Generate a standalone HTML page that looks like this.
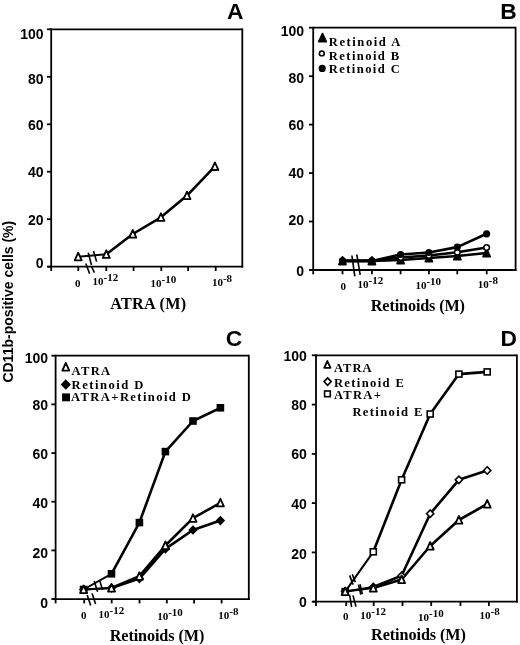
<!DOCTYPE html><html><head><meta charset="utf-8"><style>
html,body{margin:0;padding:0;background:#fff;}
svg{display:block;will-change:transform;}
line,polyline,path,rect,circle{stroke:#000;}
text{fill:#000;stroke:none;}
.yl{font-family:"Liberation Sans",sans-serif;font-weight:bold;font-size:14px;}
.pl{font-family:"Liberation Sans",sans-serif;font-weight:bold;font-size:22.8px;}
.xl{font-family:"Liberation Serif",serif;font-weight:bold;font-size:11px;}
.at{font-family:"Liberation Serif",serif;font-weight:bold;font-size:16.2px;}
.lg{font-family:"Liberation Serif",serif;font-weight:bold;font-size:12.6px;}
.yt{font-family:"Liberation Sans",sans-serif;font-weight:bold;font-size:14px;}
</style></head><body>
<svg width="520" height="645" viewBox="0 0 520 645">
<rect x="0" y="0" width="520" height="645" fill="#fff" style="stroke:none"/>
<line x1="51.2" y1="29.3" x2="242.3" y2="29.3" stroke-width="1.8"/>
<line x1="242.3" y1="28.4" x2="242.3" y2="267.6" stroke-width="1.8"/>
<line x1="51.2" y1="28.4" x2="51.2" y2="271.0" stroke-width="1.8"/>
<line x1="48.0" y1="266.7" x2="243.2" y2="266.7" stroke-width="1.8"/>
<line x1="47.0" y1="266.7" x2="51.2" y2="266.7" stroke-width="1.8"/>
<line x1="47.0" y1="219.2" x2="51.2" y2="219.2" stroke-width="1.8"/>
<line x1="47.0" y1="171.7" x2="51.2" y2="171.7" stroke-width="1.8"/>
<line x1="47.0" y1="124.3" x2="51.2" y2="124.3" stroke-width="1.8"/>
<line x1="47.0" y1="76.8" x2="51.2" y2="76.8" stroke-width="1.8"/>
<line x1="47.0" y1="29.3" x2="51.2" y2="29.3" stroke-width="1.8"/>
<line x1="78.3" y1="266.7" x2="78.3" y2="271.0" stroke-width="1.8"/>
<line x1="106.3" y1="266.7" x2="106.3" y2="271.0" stroke-width="1.8"/>
<line x1="133.6" y1="266.7" x2="133.6" y2="271.0" stroke-width="1.8"/>
<line x1="161.3" y1="266.7" x2="161.3" y2="271.0" stroke-width="1.8"/>
<line x1="188.1" y1="266.7" x2="188.1" y2="271.0" stroke-width="1.8"/>
<line x1="215.7" y1="266.7" x2="215.7" y2="271.0" stroke-width="1.8"/>
<text x="43.6" y="39.2" class="yl" text-anchor="end" >100</text>
<text x="43.6" y="84.2" class="yl" text-anchor="end" >80</text>
<text x="43.6" y="129.8" class="yl" text-anchor="end" >60</text>
<text x="43.6" y="177.3" class="yl" text-anchor="end" >40</text>
<text x="43.6" y="224.7" class="yl" text-anchor="end" >20</text>
<text x="43.6" y="268.0" class="yl" text-anchor="end" >0</text>
<text x="75.0" y="286.7" class="xl" text-anchor="start" >0</text>
<text x="92.5" y="285.0" class="xl">10<tspan dy="-4.0">-12</tspan></text>
<text x="150.6" y="287.4" class="xl">10<tspan dy="-4.0">-10</tspan></text>
<text x="211.9" y="285.7" class="xl">10<tspan dy="-4.0">-8</tspan></text>
<text x="110.2" y="308.8" class="at" text-anchor="start"  textLength="76.0" lengthAdjust="spacing">ATRA (M)</text>
<text x="226.9" y="18.9" class="pl" text-anchor="start" >A</text>
<line x1="313.2" y1="27.7" x2="515.6" y2="27.7" stroke-width="1.8"/>
<line x1="515.6" y1="26.8" x2="515.6" y2="270.9" stroke-width="1.8"/>
<line x1="313.2" y1="26.8" x2="313.2" y2="274.3" stroke-width="1.8"/>
<line x1="310.0" y1="270.0" x2="516.5" y2="270.0" stroke-width="1.8"/>
<line x1="309.0" y1="270.0" x2="313.2" y2="270.0" stroke-width="1.8"/>
<line x1="309.0" y1="221.5" x2="313.2" y2="221.5" stroke-width="1.8"/>
<line x1="309.0" y1="173.1" x2="313.2" y2="173.1" stroke-width="1.8"/>
<line x1="309.0" y1="124.6" x2="313.2" y2="124.6" stroke-width="1.8"/>
<line x1="309.0" y1="76.2" x2="313.2" y2="76.2" stroke-width="1.8"/>
<line x1="309.0" y1="27.7" x2="313.2" y2="27.7" stroke-width="1.8"/>
<line x1="342.5" y1="270.0" x2="342.5" y2="274.3" stroke-width="1.8"/>
<line x1="371.9" y1="270.0" x2="371.9" y2="274.3" stroke-width="1.8"/>
<line x1="400.6" y1="270.0" x2="400.6" y2="274.3" stroke-width="1.8"/>
<line x1="428.9" y1="270.0" x2="428.9" y2="274.3" stroke-width="1.8"/>
<line x1="457.3" y1="270.0" x2="457.3" y2="274.3" stroke-width="1.8"/>
<line x1="486.7" y1="270.0" x2="486.7" y2="274.3" stroke-width="1.8"/>
<text x="304.0" y="35.8" class="yl" text-anchor="end" >100</text>
<text x="304.0" y="82.9" class="yl" text-anchor="end" >80</text>
<text x="304.0" y="130.3" class="yl" text-anchor="end" >60</text>
<text x="304.0" y="178.0" class="yl" text-anchor="end" >40</text>
<text x="304.0" y="225.2" class="yl" text-anchor="end" >20</text>
<text x="304.0" y="275.6" class="yl" text-anchor="end" >0</text>
<text x="340.5" y="289.5" class="xl" text-anchor="start" >0</text>
<text x="357.6" y="288.2" class="xl">10<tspan dy="-4.0">-12</tspan></text>
<text x="415.4" y="289.0" class="xl">10<tspan dy="-4.0">-10</tspan></text>
<text x="477.8" y="287.8" class="xl">10<tspan dy="-4.0">-8</tspan></text>
<text x="370.8" y="310.9" class="at" text-anchor="start"  textLength="94.2" lengthAdjust="spacing">Retinoids (M)</text>
<text x="500.2" y="19.0" class="pl" text-anchor="start" >B</text>
<line x1="55.6" y1="355.7" x2="248.8" y2="355.7" stroke-width="1.8"/>
<line x1="248.8" y1="354.8" x2="248.8" y2="600.0" stroke-width="1.8"/>
<line x1="55.6" y1="354.8" x2="55.6" y2="603.4" stroke-width="1.8"/>
<line x1="52.4" y1="599.1" x2="249.7" y2="599.1" stroke-width="1.8"/>
<line x1="51.4" y1="599.1" x2="55.6" y2="599.1" stroke-width="1.8"/>
<line x1="51.4" y1="550.4" x2="55.6" y2="550.4" stroke-width="1.8"/>
<line x1="51.4" y1="501.7" x2="55.6" y2="501.7" stroke-width="1.8"/>
<line x1="51.4" y1="453.1" x2="55.6" y2="453.1" stroke-width="1.8"/>
<line x1="51.4" y1="404.4" x2="55.6" y2="404.4" stroke-width="1.8"/>
<line x1="51.4" y1="355.7" x2="55.6" y2="355.7" stroke-width="1.8"/>
<line x1="84.2" y1="599.1" x2="84.2" y2="603.4" stroke-width="1.8"/>
<line x1="111.7" y1="599.1" x2="111.7" y2="603.4" stroke-width="1.8"/>
<line x1="139.5" y1="599.1" x2="139.5" y2="603.4" stroke-width="1.8"/>
<line x1="166.8" y1="599.1" x2="166.8" y2="603.4" stroke-width="1.8"/>
<line x1="194.1" y1="599.1" x2="194.1" y2="603.4" stroke-width="1.8"/>
<line x1="221.6" y1="599.1" x2="221.6" y2="603.4" stroke-width="1.8"/>
<text x="48.1" y="362.5" class="yl" text-anchor="end" >100</text>
<text x="48.1" y="410.3" class="yl" text-anchor="end" >80</text>
<text x="48.1" y="458.5" class="yl" text-anchor="end" >60</text>
<text x="48.1" y="508.0" class="yl" text-anchor="end" >40</text>
<text x="48.1" y="557.5" class="yl" text-anchor="end" >20</text>
<text x="48.1" y="607.5" class="yl" text-anchor="end" >0</text>
<text x="81.1" y="618.8" class="xl" text-anchor="start" >0</text>
<text x="98.6" y="617.5" class="xl">10<tspan dy="-4.0">-12</tspan></text>
<text x="157.2" y="619.6" class="xl">10<tspan dy="-4.0">-10</tspan></text>
<text x="218.3" y="618.6" class="xl">10<tspan dy="-4.0">-8</tspan></text>
<text x="109.7" y="641.1" class="at" text-anchor="start"  textLength="94.6" lengthAdjust="spacing">Retinoids (M)</text>
<text x="225.8" y="345.6" class="pl" text-anchor="start" >C</text>
<line x1="316.0" y1="355.3" x2="516.9" y2="355.3" stroke-width="1.8"/>
<line x1="516.9" y1="354.4" x2="516.9" y2="602.6" stroke-width="1.8"/>
<line x1="316.0" y1="354.4" x2="316.0" y2="606.0" stroke-width="1.8"/>
<line x1="312.8" y1="601.7" x2="517.8" y2="601.7" stroke-width="1.8"/>
<line x1="311.8" y1="601.7" x2="316.0" y2="601.7" stroke-width="1.8"/>
<line x1="311.8" y1="552.4" x2="316.0" y2="552.4" stroke-width="1.8"/>
<line x1="311.8" y1="503.1" x2="316.0" y2="503.1" stroke-width="1.8"/>
<line x1="311.8" y1="453.9" x2="316.0" y2="453.9" stroke-width="1.8"/>
<line x1="311.8" y1="404.6" x2="316.0" y2="404.6" stroke-width="1.8"/>
<line x1="311.8" y1="355.3" x2="316.0" y2="355.3" stroke-width="1.8"/>
<line x1="346.2" y1="601.7" x2="346.2" y2="606.0" stroke-width="1.8"/>
<line x1="373.7" y1="601.7" x2="373.7" y2="606.0" stroke-width="1.8"/>
<line x1="402.5" y1="601.7" x2="402.5" y2="606.0" stroke-width="1.8"/>
<line x1="431.2" y1="601.7" x2="431.2" y2="606.0" stroke-width="1.8"/>
<line x1="460.5" y1="601.7" x2="460.5" y2="606.0" stroke-width="1.8"/>
<line x1="488.9" y1="601.7" x2="488.9" y2="606.0" stroke-width="1.8"/>
<text x="306.8" y="361.3" class="yl" text-anchor="end" >100</text>
<text x="306.8" y="410.3" class="yl" text-anchor="end" >80</text>
<text x="306.8" y="459.2" class="yl" text-anchor="end" >60</text>
<text x="306.8" y="509.1" class="yl" text-anchor="end" >40</text>
<text x="306.8" y="559.0" class="yl" text-anchor="end" >20</text>
<text x="306.8" y="607.3" class="yl" text-anchor="end" >0</text>
<text x="343.1" y="620.2" class="xl" text-anchor="start" >0</text>
<text x="360.3" y="618.8" class="xl">10<tspan dy="-4.0">-12</tspan></text>
<text x="418.0" y="620.8" class="xl">10<tspan dy="-4.0">-10</tspan></text>
<text x="479.6" y="618.9" class="xl">10<tspan dy="-4.0">-8</tspan></text>
<text x="371.1" y="640.3" class="at" text-anchor="start"  textLength="94.8" lengthAdjust="spacing">Retinoids (M)</text>
<text x="500.5" y="346.4" class="pl" text-anchor="start" >D</text>
<polyline points="78.2,256.7 106.3,254.3" fill="none" stroke-width="2.0" stroke-linejoin="round"/>
<polyline points="106.3,254.3 132.8,234.0 160.9,217.3 187.0,195.6 214.9,166.4" fill="none" stroke-width="2.6" stroke-linejoin="round"/>
<path d="M78.2,252.7 L81.7,260.3 L74.7,260.3 Z" fill="#fff" stroke-width="1.8" stroke-linejoin="round"/>
<path d="M106.3,250.3 L109.8,257.9 L102.8,257.9 Z" fill="#fff" stroke-width="1.8" stroke-linejoin="round"/>
<path d="M132.8,230.0 L136.3,237.6 L129.3,237.6 Z" fill="#fff" stroke-width="1.8" stroke-linejoin="round"/>
<path d="M160.9,213.3 L164.4,220.9 L157.4,220.9 Z" fill="#fff" stroke-width="1.8" stroke-linejoin="round"/>
<path d="M187.0,191.6 L190.5,199.2 L183.5,199.2 Z" fill="#fff" stroke-width="1.8" stroke-linejoin="round"/>
<path d="M214.9,162.4 L218.4,170.0 L211.4,170.0 Z" fill="#fff" stroke-width="1.8" stroke-linejoin="round"/>
<polyline points="342.5,260.9 371.9,260.9 400.6,260.0 428.9,258.0 457.3,256.0 486.6,253.0" fill="none" stroke-width="2.6" stroke-linejoin="round"/>
<polyline points="342.5,260.9 371.9,260.9 400.6,257.5 428.9,255.5 457.3,252.3 486.6,247.5" fill="none" stroke-width="2.6" stroke-linejoin="round"/>
<polyline points="342.5,260.9 371.9,260.9 400.6,254.5 428.9,252.5 457.3,247.1 486.6,233.8" fill="none" stroke-width="2.6" stroke-linejoin="round"/>
<path d="M342.5,256.9 L346.0,264.5 L339.0,264.5 Z" fill="#000" stroke-width="1.8" stroke-linejoin="round"/>
<path d="M371.9,256.9 L375.4,264.5 L368.4,264.5 Z" fill="#000" stroke-width="1.8" stroke-linejoin="round"/>
<path d="M400.6,256.0 L404.1,263.6 L397.1,263.6 Z" fill="#000" stroke-width="1.8" stroke-linejoin="round"/>
<path d="M428.9,254.0 L432.4,261.6 L425.4,261.6 Z" fill="#000" stroke-width="1.8" stroke-linejoin="round"/>
<path d="M457.3,252.0 L460.8,259.6 L453.8,259.6 Z" fill="#000" stroke-width="1.8" stroke-linejoin="round"/>
<path d="M486.6,249.0 L490.1,256.6 L483.1,256.6 Z" fill="#000" stroke-width="1.8" stroke-linejoin="round"/>
<circle cx="342.5" cy="260.9" r="2.8" fill="#fff" stroke-width="1.6"/>
<circle cx="371.9" cy="260.9" r="2.8" fill="#fff" stroke-width="1.6"/>
<circle cx="400.6" cy="257.5" r="2.8" fill="#fff" stroke-width="1.6"/>
<circle cx="428.9" cy="255.5" r="2.8" fill="#fff" stroke-width="1.6"/>
<circle cx="457.3" cy="252.3" r="2.8" fill="#fff" stroke-width="1.6"/>
<circle cx="486.6" cy="247.5" r="2.8" fill="#fff" stroke-width="1.6"/>
<circle cx="342.5" cy="260.9" r="2.8" fill="#000" stroke-width="1.6"/>
<circle cx="371.9" cy="260.9" r="2.8" fill="#000" stroke-width="1.6"/>
<circle cx="400.6" cy="254.5" r="2.8" fill="#000" stroke-width="1.6"/>
<circle cx="428.9" cy="252.5" r="2.8" fill="#000" stroke-width="1.6"/>
<circle cx="457.3" cy="247.1" r="2.8" fill="#000" stroke-width="1.6"/>
<circle cx="486.6" cy="233.8" r="2.8" fill="#000" stroke-width="1.6"/>
<polyline points="83.6,589.5 111.5,573.8" fill="none" stroke-width="1.9" stroke-linejoin="round"/>
<polyline points="111.5,573.8 139.4,522.6 165.4,451.6 193.0,421.0 220.4,407.8" fill="none" stroke-width="2.6" stroke-linejoin="round"/>
<polyline points="83.6,589.5 111.5,588.0" fill="none" stroke-width="1.9" stroke-linejoin="round"/>
<polyline points="111.5,588.0 139.4,578.6 165.4,548.9 193.0,530.0 220.4,520.6" fill="none" stroke-width="2.6" stroke-linejoin="round"/>
<polyline points="83.6,589.5 111.5,588.0" fill="none" stroke-width="1.9" stroke-linejoin="round"/>
<polyline points="111.5,588.0 139.4,576.2 165.4,545.5 193.0,518.2 220.4,502.8" fill="none" stroke-width="2.6" stroke-linejoin="round"/>
<rect x="80.6" y="586.5" width="6.0" height="6.0" fill="#000" stroke-width="1.6"/>
<rect x="108.5" y="570.8" width="6.0" height="6.0" fill="#000" stroke-width="1.6"/>
<rect x="136.4" y="519.6" width="6.0" height="6.0" fill="#000" stroke-width="1.6"/>
<rect x="162.4" y="448.6" width="6.0" height="6.0" fill="#000" stroke-width="1.6"/>
<rect x="190.0" y="418.0" width="6.0" height="6.0" fill="#000" stroke-width="1.6"/>
<rect x="217.4" y="404.8" width="6.0" height="6.0" fill="#000" stroke-width="1.6"/>
<path d="M83.6,585.8 L87.2,589.5 L83.6,593.2 L80.0,589.5 Z" fill="#000" stroke-width="1.6"/>
<path d="M111.5,584.3 L115.1,588.0 L111.5,591.7 L107.9,588.0 Z" fill="#000" stroke-width="1.6"/>
<path d="M139.4,574.9 L143.0,578.6 L139.4,582.3 L135.8,578.6 Z" fill="#000" stroke-width="1.6"/>
<path d="M165.4,545.2 L169.0,548.9 L165.4,552.6 L161.8,548.9 Z" fill="#000" stroke-width="1.6"/>
<path d="M193.0,526.3 L196.6,530.0 L193.0,533.7 L189.4,530.0 Z" fill="#000" stroke-width="1.6"/>
<path d="M220.4,516.9 L224.0,520.6 L220.4,524.3 L216.8,520.6 Z" fill="#000" stroke-width="1.6"/>
<path d="M83.6,585.5 L87.1,593.1 L80.1,593.1 Z" fill="#fff" stroke-width="1.8" stroke-linejoin="round"/>
<path d="M111.5,584.0 L115.0,591.6 L108.0,591.6 Z" fill="#fff" stroke-width="1.8" stroke-linejoin="round"/>
<path d="M139.4,572.2 L142.9,579.8 L135.9,579.8 Z" fill="#fff" stroke-width="1.8" stroke-linejoin="round"/>
<path d="M165.4,541.5 L168.9,549.1 L161.9,549.1 Z" fill="#fff" stroke-width="1.8" stroke-linejoin="round"/>
<path d="M193.0,514.2 L196.5,521.8 L189.5,521.8 Z" fill="#fff" stroke-width="1.8" stroke-linejoin="round"/>
<path d="M220.4,498.8 L223.9,506.4 L216.9,506.4 Z" fill="#fff" stroke-width="1.8" stroke-linejoin="round"/>
<polyline points="345.2,591.6 373.3,551.8" fill="none" stroke-width="2.0" stroke-linejoin="round"/>
<polyline points="373.3,551.8 401.6,479.8 430.2,414.0 458.9,374.1 487.2,371.9" fill="none" stroke-width="2.6" stroke-linejoin="round"/>
<polyline points="345.2,591.6 373.3,587.0" fill="none" stroke-width="2.0" stroke-linejoin="round"/>
<polyline points="373.3,587.0 401.6,575.8 430.2,513.7 458.9,479.8 487.2,470.5" fill="none" stroke-width="2.6" stroke-linejoin="round"/>
<polyline points="345.2,591.6 373.3,588.1" fill="none" stroke-width="2.0" stroke-linejoin="round"/>
<polyline points="373.3,588.1 401.6,579.5 430.2,546.0 458.9,520.0 487.2,504.0" fill="none" stroke-width="2.6" stroke-linejoin="round"/>
<rect x="342.2" y="588.6" width="6.0" height="6.0" fill="#fff" stroke-width="1.6"/>
<rect x="370.3" y="548.8" width="6.0" height="6.0" fill="#fff" stroke-width="1.6"/>
<rect x="398.6" y="476.8" width="6.0" height="6.0" fill="#fff" stroke-width="1.6"/>
<rect x="427.2" y="411.0" width="6.0" height="6.0" fill="#fff" stroke-width="1.6"/>
<rect x="455.9" y="371.1" width="6.0" height="6.0" fill="#fff" stroke-width="1.6"/>
<rect x="484.2" y="368.9" width="6.0" height="6.0" fill="#fff" stroke-width="1.6"/>
<path d="M345.2,587.9 L348.8,591.6 L345.2,595.3 L341.6,591.6 Z" fill="#fff" stroke-width="1.6"/>
<path d="M373.3,583.3 L376.9,587.0 L373.3,590.7 L369.7,587.0 Z" fill="#fff" stroke-width="1.6"/>
<path d="M401.6,572.1 L405.2,575.8 L401.6,579.5 L398.0,575.8 Z" fill="#fff" stroke-width="1.6"/>
<path d="M430.2,510.0 L433.8,513.7 L430.2,517.4 L426.6,513.7 Z" fill="#fff" stroke-width="1.6"/>
<path d="M458.9,476.1 L462.5,479.8 L458.9,483.5 L455.3,479.8 Z" fill="#fff" stroke-width="1.6"/>
<path d="M487.2,466.8 L490.8,470.5 L487.2,474.2 L483.6,470.5 Z" fill="#fff" stroke-width="1.6"/>
<path d="M345.2,587.6 L348.7,595.2 L341.7,595.2 Z" fill="#fff" stroke-width="1.8" stroke-linejoin="round"/>
<path d="M373.3,584.1 L376.8,591.7 L369.8,591.7 Z" fill="#fff" stroke-width="1.8" stroke-linejoin="round"/>
<path d="M401.6,575.5 L405.1,583.1 L398.1,583.1 Z" fill="#fff" stroke-width="1.8" stroke-linejoin="round"/>
<path d="M430.2,542.0 L433.7,549.6 L426.7,549.6 Z" fill="#fff" stroke-width="1.8" stroke-linejoin="round"/>
<path d="M458.9,516.0 L462.4,523.6 L455.4,523.6 Z" fill="#fff" stroke-width="1.8" stroke-linejoin="round"/>
<path d="M487.2,500.0 L490.7,507.6 L483.7,507.6 Z" fill="#fff" stroke-width="1.8" stroke-linejoin="round"/>
<path d="M322.5,33.6 L326.2,41.6 L318.8,41.6 Z" fill="#000" stroke-width="1.8" stroke-linejoin="round"/>
<text x="328.8" y="46.3" class="lg" text-anchor="start"  textLength="71.6" lengthAdjust="spacing">Retinoid A</text>
<circle cx="321.8" cy="53.4" r="2.4" fill="#fff" stroke-width="1.6"/>
<text x="328.8" y="59.7" class="lg" text-anchor="start"  textLength="70.4" lengthAdjust="spacing">Retinoid B</text>
<circle cx="322.2" cy="68.4" r="2.8" fill="#000" stroke-width="1.6"/>
<text x="328.8" y="72.6" class="lg" text-anchor="start"  textLength="71.0" lengthAdjust="spacing">Retinoid C</text>
<path d="M65.8,363.0 L69.3,370.6 L62.3,370.6 Z" fill="#fff" stroke-width="1.8" stroke-linejoin="round"/>
<text x="71.6" y="374.6" class="lg" text-anchor="start"  textLength="38.6" lengthAdjust="spacing">ATRA</text>
<path d="M65.8,380.5 L69.8,384.6 L65.8,388.7 L61.8,384.6 Z" fill="#000" stroke-width="1.6"/>
<text x="71.6" y="388.9" class="lg" text-anchor="start"  textLength="71.8" lengthAdjust="spacing">Retinoid D</text>
<rect x="62.9" y="394.2" width="6.3" height="6.3" fill="#000" stroke-width="1.6"/>
<text x="71.0" y="401.4" class="lg" text-anchor="start"  textLength="119.8" lengthAdjust="spacing">ATRA+Retinoid D</text>
<path d="M327.4,361.0 L330.5,367.8 L324.2,367.8 Z" fill="#fff" stroke-width="1.8" stroke-linejoin="round"/>
<text x="333.9" y="371.8" class="lg" text-anchor="start"  textLength="37.8" lengthAdjust="spacing">ATRA</text>
<path d="M327.6,377.9 L331.2,381.6 L327.6,385.3 L324.0,381.6 Z" fill="#fff" stroke-width="1.6"/>
<text x="333.9" y="386.8" class="lg" text-anchor="start"  textLength="70.0" lengthAdjust="spacing">Retinoid E</text>
<rect x="324.6" y="391.0" width="5.7" height="5.7" fill="#fff" stroke-width="1.6"/>
<text x="333.9" y="398.8" class="lg" text-anchor="start"  textLength="47.0" lengthAdjust="spacing">ATRA+</text>
<text x="352.4" y="415.5" class="lg" text-anchor="start"  textLength="70.0" lengthAdjust="spacing">Retinoid E</text>
<line x1="88.2" y1="252.7" x2="91.5" y2="265.0" stroke-width="1.6"/>
<line x1="93.5" y1="251.0" x2="96.6" y2="261.6" stroke-width="1.6"/>
<line x1="85.8" y1="263.5" x2="89.6" y2="273.8" stroke-width="1.6"/>
<line x1="91.3" y1="266.0" x2="94.4" y2="272.6" stroke-width="1.6"/>
<line x1="351.9" y1="255.5" x2="354.8" y2="276.4" stroke-width="1.6"/>
<line x1="356.8" y1="254.5" x2="360.2" y2="274.8" stroke-width="1.6"/>
<line x1="94.2" y1="581.1" x2="97.6" y2="591.7" stroke-width="1.6"/>
<line x1="99.6" y1="579.9" x2="102.5" y2="589.7" stroke-width="1.6"/>
<line x1="87.2" y1="594.9" x2="90.7" y2="605.6" stroke-width="1.6"/>
<line x1="92.1" y1="593.5" x2="95.6" y2="603.9" stroke-width="1.6"/>
<line x1="349.6" y1="575.4" x2="353.1" y2="584.6" stroke-width="1.6"/>
<line x1="352.3" y1="574.2" x2="355.4" y2="582.3" stroke-width="1.6"/>
<line x1="358.5" y1="584.6" x2="360.8" y2="594.6" stroke-width="1.6"/>
<line x1="360.0" y1="584.2" x2="362.3" y2="594.2" stroke-width="1.6"/>
<line x1="349.6" y1="594.8" x2="351.6" y2="607.0" stroke-width="1.6"/>
<line x1="353.0" y1="595.4" x2="356.0" y2="606.6" stroke-width="1.6"/>
<text class="yt" transform="translate(13.0,382.6) rotate(-90)" x="0" y="0">CD11b-positive cells (%)</text>
</svg></body></html>
